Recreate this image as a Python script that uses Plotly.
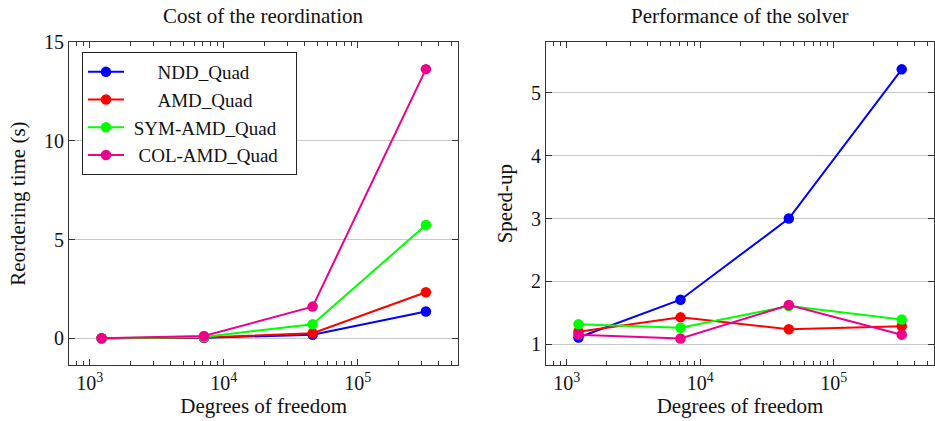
import plotly.graph_objects as go

# Problem sizes (degrees of freedom)
dofs = [1225, 7120, 46100, 323000]

series_names = ["NDD_Quad", "AMD_Quad", "SYM-AMD_Quad", "COL-AMD_Quad"]
series_colors = ["#0000FF", "#FF0000", "#00FF00", "#EC008C"]
# non-breaking spaces (before, after) so the legend labels sit centred in the box
legend_pad = [(6, 0), (6, 0), (1, 3), (2, 0)]

# Reordering time in seconds
reorder_ndd = [0.0, 0.02, 0.17, 1.35]
reorder_amd = [0.0, 0.04, 0.25, 2.33]
reorder_sym = [0.0, 0.06, 0.71, 5.74]
reorder_col = [0.0, 0.11, 1.60, 13.64]

# Solver speed-up
speed_ndd = [1.11, 1.71, 3.00, 5.37]
speed_amd = [1.20, 1.43, 1.24, 1.29]
speed_sym = [1.32, 1.265, 1.61, 1.395]
speed_col = [1.155, 1.095, 1.625, 1.155]

reorder = [reorder_ndd, reorder_amd, reorder_sym, reorder_col]
speed = [speed_ndd, speed_amd, speed_sym, speed_col]

FONT = "Liberation Serif"
FS = 20
W, H = 935, 421

fig = go.Figure()
for name, (pl, pr), color, yl, yr in zip(series_names, legend_pad, series_colors, reorder, speed):
    fig.add_trace(go.Scatter(
        x=dofs, y=yl, name="&nbsp;" * pl + name + "&nbsp;" * pr, mode="lines+markers",
        line=dict(color=color, width=2), marker=dict(color=color, size=10.5),
        xaxis="x", yaxis="y", showlegend=True))
    fig.add_trace(go.Scatter(
        x=dofs, y=yr, name=name, mode="lines+markers",
        line=dict(color=color, width=2), marker=dict(color=color, size=10.5),
        xaxis="x2", yaxis="y2", showlegend=False))

minor_x = [800, 900] + [k * 1e3 for k in range(2, 10)] + \
          [k * 1e4 for k in range(2, 10)] + [k * 1e5 for k in range(2, 6)]

def xaxis_cfg(domain):
    return dict(
        domain=domain, type="log", range=[2.845, 5.751], automargin=False,
        tickvals=[1e3, 1e4, 1e5],
        ticktext=["10<sup>3</sup>", "10<sup>4</sup>", "10<sup>5</sup>"],
        ticks="inside", ticklen=6, tickcolor="#333", tickwidth=1,
        minor=dict(tickvals=minor_x, ticks="inside", ticklen=3.5, tickcolor="#333", showgrid=False),
        showline=True, linecolor="#333", linewidth=1.2, mirror="ticks",
        showgrid=False, zeroline=False,
        tickfont=dict(family=FONT, size=FS, color="#111"),
        title=dict(text="Degrees of freedom", font=dict(family=FONT, size=FS + 1, color="#111"), standoff=4),
    )

def yaxis_cfg(rng, vals, title, anchor):
    return dict(
        domain=[56 / H, 1 - 42.3 / H], range=rng, tickvals=vals, automargin=False,
        ticks="inside", ticklen=6, tickcolor="#333",
        showline=True, linecolor="#333", linewidth=1.2, mirror="ticks",
        showgrid=True, gridcolor="#c8c8c8", gridwidth=1, zeroline=False,
        anchor=anchor,
        tickfont=dict(family=FONT, size=FS, color="#111"),
        title=dict(text=title, font=dict(family=FONT, size=FS + 1, color="#111"), standoff=12),
    )

fig.update_layout(
    width=W, height=H,
    margin=dict(l=0, r=0, t=0, b=0, autoexpand=False),
    paper_bgcolor="white", plot_bgcolor="white",
    font=dict(family=FONT, color="#111"),
    xaxis=dict(xaxis_cfg([69 / W, 458.3 / W]), anchor="y"),
    xaxis2=dict(xaxis_cfg([546 / W, 934 / W]), anchor="y2"),
    yaxis=yaxis_cfg([-1.36, 15], [0, 5, 10, 15], "Reordering time (s)", "x"),
    yaxis2=yaxis_cfg([0.673, 5.80], [1, 2, 3, 4, 5], "Speed-up", "x2"),
    legend=dict(
        x=82 / W, y=1 - 52 / H, xanchor="left", yanchor="top",
        bgcolor="white", bordercolor="#222", borderwidth=1,
        font=dict(family=FONT, size=19, color="#111"),
        tracegroupgap=0, itemwidth=36,
    ),
    annotations=[
        dict(text="Cost of the reordination", x=263.5 / W, y=1 - 16 / H,
             xref="paper", yref="paper", xanchor="center", yanchor="middle",
             showarrow=False, font=dict(family=FONT, size=FS + 1, color="#111")),
        dict(text="Performance of the solver", x=740 / W, y=1 - 16 / H,
             xref="paper", yref="paper", xanchor="center", yanchor="middle",
             showarrow=False, font=dict(family=FONT, size=FS + 1, color="#111")),
    ],
)

fig.write_html("out.html")
